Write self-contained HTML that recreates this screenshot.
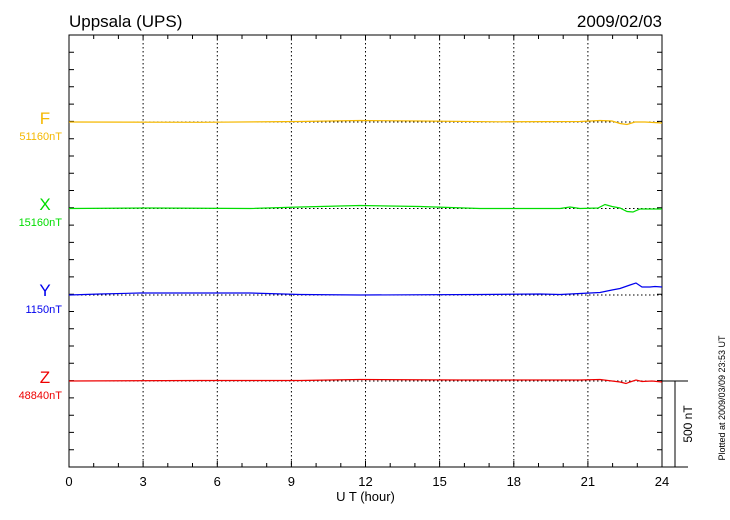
<!DOCTYPE html>
<html><head><style>body{margin:0;background:#fff}svg{display:block;font-family:"Liberation Sans",sans-serif}</style></head><body>
<svg width="730" height="520" viewBox="0 0 730 520">
<rect width="730" height="520" fill="#fff"/>
<text x="69" y="27" font-size="17">Uppsala (UPS)</text>
<text x="662" y="27" font-size="17" text-anchor="end">2009/02/03</text>
<g stroke="#000" stroke-width="1" stroke-dasharray="1.5,2.5">
<line x1="143.1" y1="35" x2="143.1" y2="467"/><line x1="217.3" y1="35" x2="217.3" y2="467"/><line x1="291.4" y1="35" x2="291.4" y2="467"/><line x1="365.5" y1="35" x2="365.5" y2="467"/><line x1="439.6" y1="35" x2="439.6" y2="467"/><line x1="513.8" y1="35" x2="513.8" y2="467"/><line x1="587.9" y1="35" x2="587.9" y2="467"/>
<line x1="69" y1="122" x2="662" y2="122"/><line x1="69" y1="208.5" x2="662" y2="208.5"/><line x1="69" y1="295" x2="662" y2="295"/><line x1="69" y1="381" x2="662" y2="381"/>
</g>
<g stroke="#000" stroke-width="1" fill="none">
<rect x="69" y="35" width="593" height="432"/>
<path id="tk" d="M69,52.3h5M69,69.6h5M69,86.8h5M69,104.1h5M69,121.4h5M69,138.7h5M69,156h5M69,173.2h5M69,190.5h5M69,207.8h5M69,225.1h5M69,242.4h5M69,259.6h5M69,276.9h5M69,294.2h5M69,311.5h5M69,328.8h5M69,346h5M69,363.3h5M69,380.6h5M69,397.9h5M69,415.2h5M69,432.4h5M69,449.7h5"/>
<path d="M662,52.3h-5M662,69.6h-5M662,86.8h-5M662,104.1h-5M662,121.4h-5M662,138.7h-5M662,156h-5M662,173.2h-5M662,190.5h-5M662,207.8h-5M662,225.1h-5M662,242.4h-5M662,259.6h-5M662,276.9h-5M662,294.2h-5M662,311.5h-5M662,328.8h-5M662,346h-5M662,363.3h-5M662,380.6h-5M662,397.9h-5M662,415.2h-5M662,432.4h-5M662,449.7h-5"/>
<path d="M93.7,35v4M118.4,35v4M143.1,35v4M167.8,35v4M192.5,35v4M217.3,35v4M242,35v4M266.7,35v4M291.4,35v4M316.1,35v4M340.8,35v4M365.5,35v4M390.2,35v4M414.9,35v4M439.6,35v4M464.4,35v4M489.1,35v4M513.8,35v4M538.5,35v4M563.2,35v4M587.9,35v4M612.6,35v4M637.3,35v4"/>
<path d="M93.7,467v-4M118.4,467v-4M143.1,467v-6M167.8,467v-4M192.5,467v-4M217.3,467v-6M242,467v-4M266.7,467v-4M291.4,467v-6M316.1,467v-4M340.8,467v-4M365.5,467v-6M390.2,467v-4M414.9,467v-4M439.6,467v-6M464.4,467v-4M489.1,467v-4M513.8,467v-6M538.5,467v-4M563.2,467v-4M587.9,467v-6M612.6,467v-4M637.3,467v-4"/>
<path d="M662,381h26M662,467h26M675,381v86"/>
</g>
<polyline fill="none" stroke="#f5b800" stroke-width="1.2" points="69,122 200,122.3 300,121.5 360,120.5 420,121 500,121.8 580,121.5 600,120.5 612,121 620,123.5 627,124.5 635,122 645,122 662,123"/>
<polyline fill="none" stroke="#00dd00" stroke-width="1.2" points="69,208.5 150,208 250,208.5 300,207 360,205.5 420,206.5 480,208.5 560,208.5 570,207 580,208.5 598,208 605,204.5 612,206.5 620,208 627,211.5 633,212 640,209 662,209"/>
<polyline fill="none" stroke="#0000ee" stroke-width="1.2" points="69,295 100,294 140,293 250,293 300,294.5 360,295 480,294.5 540,294 560,294.5 580,293.5 600,292.5 612,290 620,288.5 630,285 636,283 642,287 650,287 655,286.5 662,287"/>
<polyline fill="none" stroke="#ee0000" stroke-width="1.2" points="69,381 200,380.5 300,380.5 360,379.5 460,380 580,380 600,379.5 612,381 620,382 626,383.5 630,382 636,380 642,381.5 652,381 662,382"/>
<text x="45" y="124" font-size="17" fill="#f5b800" text-anchor="middle">F</text>
<text x="62" y="140" font-size="11" fill="#f5b800" text-anchor="end">51160nT</text>
<text x="45" y="210" font-size="17" fill="#00dd00" text-anchor="middle">X</text>
<text x="62" y="226" font-size="11" fill="#00dd00" text-anchor="end">15160nT</text>
<text x="45" y="296" font-size="17" fill="#0000ee" text-anchor="middle">Y</text>
<text x="62" y="313" font-size="11" fill="#0000ee" text-anchor="end">1150nT</text>
<text x="45" y="383" font-size="17" fill="#ee0000" text-anchor="middle">Z</text>
<text x="62" y="399" font-size="11" fill="#ee0000" text-anchor="end">48840nT</text>
<g font-size="13" text-anchor="middle">
<text x="69" y="486">0</text><text x="143.1" y="486">3</text><text x="217.3" y="486">6</text><text x="291.4" y="486">9</text><text x="365.5" y="486">12</text><text x="439.6" y="486">15</text><text x="513.8" y="486">18</text><text x="587.9" y="486">21</text><text x="662" y="486">24</text>
<text x="365.5" y="501">U T (hour)</text>
</g>
<text transform="translate(692,424) rotate(-90)" font-size="12" text-anchor="middle">500 nT</text>
<text transform="translate(725,398) rotate(-90)" font-size="9" text-anchor="middle">Plotted at 2009/03/09 23:53 UT</text>
</svg>
</body></html>
